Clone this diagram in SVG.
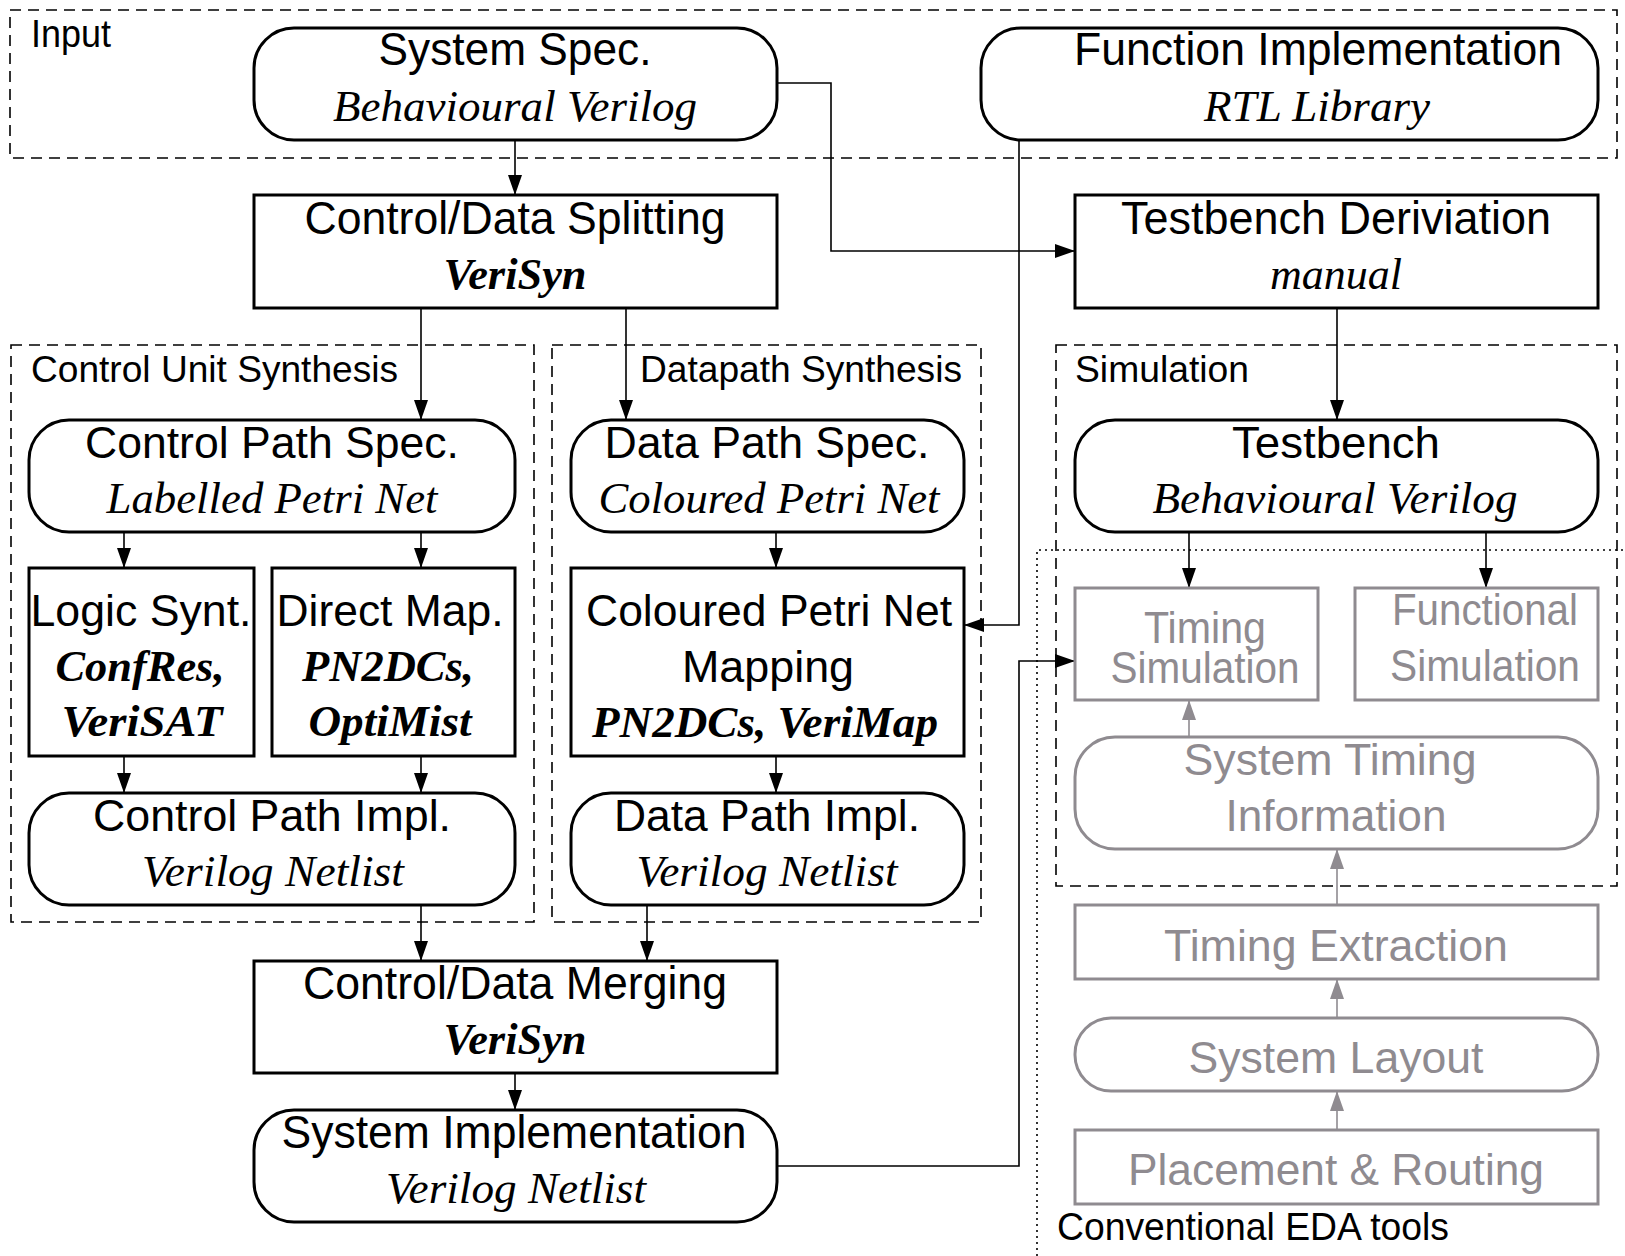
<svg xmlns="http://www.w3.org/2000/svg" width="1625" height="1256" viewBox="0 0 1625 1256">
<defs>
<style>
.bg{fill:#fff}
.n{fill:#fff;stroke:#000;stroke-width:3}
.g{fill:#fff;stroke:#8f8b90;stroke-width:3}
.grp{fill:none;stroke:#000;stroke-width:1.6;stroke-dasharray:11 7}
.dot{fill:none;stroke:#000;stroke-width:1.6;stroke-dasharray:2 4}
.c{fill:none;stroke:#000;stroke-width:1.6}
.cg{fill:none;stroke:#8f8b90;stroke-width:1.6}
text{text-anchor:middle}
.s{font-family:"Liberation Sans",Arial,sans-serif;font-size:44px;fill:#000}
.sn{font-family:"Liberation Sans",Arial,sans-serif;font-size:47px;fill:#000}
.sg{font-family:"Liberation Sans",Arial,sans-serif;font-size:44px;fill:#8f8b90}
.lab{font-family:"Liberation Sans",Arial,sans-serif;font-size:37px;fill:#000;text-anchor:start}
.labn{font-family:"Liberation Sans",Arial,sans-serif;font-size:39px;fill:#000;text-anchor:start}
.i{font-family:"Liberation Serif","Times New Roman",serif;font-style:italic;font-size:44px;fill:#000}
.bi{font-family:"Liberation Serif","Times New Roman",serif;font-style:italic;font-weight:bold;font-size:44px;fill:#000}
</style>
<marker id="a" markerUnits="userSpaceOnUse" markerWidth="20" markerHeight="14" refX="20" refY="7" viewBox="0 0 20 14" orient="auto">
<path d="M0 0 L20 7 L0 14 Z" fill="#000"/>
</marker>
<marker id="ag" markerUnits="userSpaceOnUse" markerWidth="20" markerHeight="14" refX="20" refY="7" viewBox="0 0 20 14" orient="auto">
<path d="M0 0 L20 7 L0 14 Z" fill="#8f8b90"/>
</marker>
</defs>
<rect class="bg" x="0" y="0" width="1625" height="1256"/>

<g id="groups">
<g id="grp-input"><rect class="grp" x="10" y="10" width="1607" height="148"/><text class="labn" x="31" y="47" textLength="80" lengthAdjust="spacingAndGlyphs">Input</text></g>
<g id="grp-control"><rect class="grp" x="11" y="345" width="523" height="577"/><text class="lab" x="31" y="382" textLength="367" lengthAdjust="spacingAndGlyphs">Control Unit Synthesis</text></g>
<g id="grp-datapath"><rect class="grp" x="552" y="345" width="429" height="577"/><text class="lab" x="640" y="382" textLength="322" lengthAdjust="spacingAndGlyphs">Datapath Synthesis</text></g>
<g id="grp-sim"><rect class="grp" x="1056" y="345" width="561" height="541"/><text class="lab" x="1075" y="382" textLength="174" lengthAdjust="spacingAndGlyphs">Simulation</text></g>
<g id="grp-eda"><path class="dot" d="M1037 1256 V550 H1625"/><text class="labn" x="1057" y="1240" textLength="392" lengthAdjust="spacingAndGlyphs">Conventional EDA tools</text></g>
</g>

<g id="connectors">
<path class="c" d="M515 140 V195" marker-end="url(#a)"/>
<path class="c" d="M777 83 H831 V251 H1075" marker-end="url(#a)"/>
<path class="c" d="M1019 140 V625 H964" marker-end="url(#a)"/>
<path class="c" d="M421 308 V420" marker-end="url(#a)"/>
<path class="c" d="M626 308 V420" marker-end="url(#a)"/>
<path class="c" d="M1337 308 V420" marker-end="url(#a)"/>
<path class="c" d="M124 532 V568" marker-end="url(#a)"/>
<path class="c" d="M421 532 V568" marker-end="url(#a)"/>
<path class="c" d="M124 756 V793" marker-end="url(#a)"/>
<path class="c" d="M421 756 V793" marker-end="url(#a)"/>
<path class="c" d="M776 532 V568" marker-end="url(#a)"/>
<path class="c" d="M776 756 V793" marker-end="url(#a)"/>
<path class="c" d="M421 905 V961" marker-end="url(#a)"/>
<path class="c" d="M647 905 V961" marker-end="url(#a)"/>
<path class="c" d="M515 1073 V1110" marker-end="url(#a)"/>
<path class="c" d="M777 1166 H1019 V661 H1075" marker-end="url(#a)"/>
<path class="c" d="M1189 532 V588" marker-end="url(#a)"/>
<path class="c" d="M1486 532 V588" marker-end="url(#a)"/>
<path class="cg" d="M1189 737 V700" marker-end="url(#ag)"/>
<path class="cg" d="M1337 905 V849" marker-end="url(#ag)"/>
<path class="cg" d="M1337 1018 V979" marker-end="url(#ag)"/>
<path class="cg" d="M1337 1130 V1091" marker-end="url(#ag)"/>
</g>

<g id="system-spec"><rect class="n" x="254" y="28" width="523" height="112" rx="40"/>
<text class="sn" x="515" y="65" textLength="273" lengthAdjust="spacingAndGlyphs">System Spec.</text>
<text class="i" x="515" y="121" textLength="364" lengthAdjust="spacingAndGlyphs">Behavioural Verilog</text></g>

<g id="function-impl"><rect class="n" x="981" y="28" width="617" height="112" rx="40"/>
<text class="sn" x="1318" y="65" textLength="488" lengthAdjust="spacingAndGlyphs">Function Implementation</text>
<text class="i" x="1317" y="121" textLength="226" lengthAdjust="spacingAndGlyphs">RTL Library</text></g>

<g id="cd-splitting"><rect class="n" x="254" y="195" width="523" height="113"/>
<text class="sn" x="515" y="234" textLength="421" lengthAdjust="spacingAndGlyphs">Control/Data Splitting</text>
<text class="bi" x="515" y="289" textLength="143" lengthAdjust="spacingAndGlyphs">VeriSyn</text></g>

<g id="tb-derivation"><rect class="n" x="1075" y="195" width="523" height="113"/>
<text class="sn" x="1336" y="234" textLength="430" lengthAdjust="spacingAndGlyphs">Testbench Deriviation</text>
<text class="i" x="1336" y="289" textLength="132" lengthAdjust="spacingAndGlyphs">manual</text></g>

<g id="control-path-spec"><rect class="n" x="29" y="420" width="486" height="112" rx="40"/>
<text class="s" x="272" y="458" textLength="374" lengthAdjust="spacingAndGlyphs">Control Path Spec.</text>
<text class="i" x="272" y="513" textLength="331" lengthAdjust="spacingAndGlyphs">Labelled Petri Net</text></g>

<g id="logic-synt"><rect class="n" x="29" y="568" width="225" height="188"/>
<text class="s" x="141" y="626" textLength="221" lengthAdjust="spacingAndGlyphs">Logic Synt.</text>
<text class="bi" x="140" y="681" textLength="169" lengthAdjust="spacingAndGlyphs">ConfRes,</text>
<text class="bi" x="142" y="736" textLength="161" lengthAdjust="spacingAndGlyphs">VeriSAT</text></g>

<g id="direct-map"><rect class="n" x="272" y="568" width="243" height="188"/>
<text class="s" x="390" y="626" textLength="227" lengthAdjust="spacingAndGlyphs">Direct Map.</text>
<text class="bi" x="388" y="681" textLength="172" lengthAdjust="spacingAndGlyphs">PN2DCs,</text>
<text class="bi" x="390" y="736" textLength="163" lengthAdjust="spacingAndGlyphs">OptiMist</text></g>

<g id="control-path-impl"><rect class="n" x="29" y="793" width="486" height="112" rx="40"/>
<text class="s" x="272" y="831" textLength="358" lengthAdjust="spacingAndGlyphs">Control Path Impl.</text>
<text class="i" x="273" y="886" textLength="262" lengthAdjust="spacingAndGlyphs">Verilog Netlist</text></g>

<g id="data-path-spec"><rect class="n" x="571" y="420" width="393" height="112" rx="40"/>
<text class="s" x="767" y="458" textLength="325" lengthAdjust="spacingAndGlyphs">Data Path Spec.</text>
<text class="i" x="769" y="513" textLength="341" lengthAdjust="spacingAndGlyphs">Coloured Petri Net</text></g>

<g id="cpn-mapping"><rect class="n" x="571" y="568" width="393" height="188"/>
<text class="s" x="769" y="626" textLength="366" lengthAdjust="spacingAndGlyphs">Coloured Petri Net</text>
<text class="s" x="768" y="682" textLength="172" lengthAdjust="spacingAndGlyphs">Mapping</text>
<text class="bi" x="765" y="737" textLength="346" lengthAdjust="spacingAndGlyphs">PN2DCs, VeriMap</text></g>

<g id="data-path-impl"><rect class="n" x="571" y="793" width="393" height="112" rx="40"/>
<text class="s" x="767" y="831" textLength="306" lengthAdjust="spacingAndGlyphs">Data Path Impl.</text>
<text class="i" x="767" y="886" textLength="261" lengthAdjust="spacingAndGlyphs">Verilog Netlist</text></g>

<g id="cd-merging"><rect class="n" x="254" y="961" width="523" height="112"/>
<text class="sn" x="515" y="999" textLength="424" lengthAdjust="spacingAndGlyphs">Control/Data Merging</text>
<text class="bi" x="515" y="1054" textLength="143" lengthAdjust="spacingAndGlyphs">VeriSyn</text></g>

<g id="system-impl"><rect class="n" x="254" y="1110" width="523" height="112" rx="40"/>
<text class="sn" x="514" y="1148" textLength="465" lengthAdjust="spacingAndGlyphs">System Implementation</text>
<text class="i" x="516" y="1203" textLength="260" lengthAdjust="spacingAndGlyphs">Verilog Netlist</text></g>

<g id="testbench"><rect class="n" x="1075" y="420" width="523" height="112" rx="40"/>
<text class="s" x="1336" y="458" textLength="208" lengthAdjust="spacingAndGlyphs">Testbench</text>
<text class="i" x="1335" y="513" textLength="365" lengthAdjust="spacingAndGlyphs">Behavioural Verilog</text></g>

<g id="timing-sim"><rect class="g" x="1075" y="588" width="243" height="112"/>
<text class="sg" x="1205" y="643" textLength="122" lengthAdjust="spacingAndGlyphs">Timing</text>
<text class="sg" x="1205" y="683" textLength="189" lengthAdjust="spacingAndGlyphs">Simulation</text></g>

<g id="functional-sim"><rect class="g" x="1355" y="588" width="243" height="112"/>
<text class="sg" x="1485" y="625" textLength="186" lengthAdjust="spacingAndGlyphs">Functional</text>
<text class="sg" x="1485" y="681" textLength="190" lengthAdjust="spacingAndGlyphs">Simulation</text></g>

<g id="system-timing-info"><rect class="g" x="1075" y="737" width="523" height="112" rx="40"/>
<text class="sg" x="1330" y="775" textLength="293" lengthAdjust="spacingAndGlyphs">System Timing</text>
<text class="sg" x="1336" y="831" textLength="221" lengthAdjust="spacingAndGlyphs">Information</text></g>

<g id="timing-extraction"><rect class="g" x="1075" y="905" width="523" height="74"/>
<text class="sg" x="1336" y="961" textLength="344" lengthAdjust="spacingAndGlyphs">Timing Extraction</text></g>

<g id="system-layout"><rect class="g" x="1075" y="1018" width="523" height="73" rx="36"/>
<text class="sg" x="1336" y="1073" textLength="295" lengthAdjust="spacingAndGlyphs">System Layout</text></g>

<g id="placement-routing"><rect class="g" x="1075" y="1130" width="523" height="74"/>
<text class="sg" x="1336" y="1185" textLength="416" lengthAdjust="spacingAndGlyphs">Placement &amp; Routing</text></g>
</svg>
